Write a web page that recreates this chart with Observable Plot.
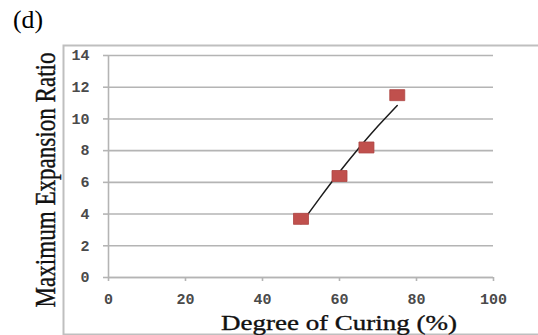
<!DOCTYPE html>
<html>
<head>
<meta charset="utf-8">
<script src="https://cdn.jsdelivr.net/npm/d3@7"></script>
<script src="https://cdn.jsdelivr.net/npm/@observablehq/plot@0.6"></script>
<style>
  html, body { margin: 0; padding: 0; background: #fff; }
</style>
</head>
<body>
<div id="chart"></div>
<script>
// Measured samples: degree of curing (%) vs maximum expansion ratio
const curing = [50, 60, 67, 75];
const expansion = [3.7, 6.4, 8.2, 11.5];

// Trendline drawn through the samples
const trendCuring = [50, 55, 60, 65, 70, 75];
const trendExpansion = [3.4, 5.05, 6.65, 8.15, 9.55, 10.85];

// Axis ticks
const xTicks = [0, 20, 40, 60, 80, 100];
const yTicks = [0, 2, 4, 6, 8, 10, 12, 14];

const points = curing.map((x, i) => ({x, y: expansion[i]}));
const trend = trendCuring.map((x, i) => ({x, y: trendExpansion[i]}));

// Spreadsheet-style marker: a slightly wide filled rectangle
const wideSquare = {
  draw(context) {
    const w = 15, h = 11;
    context.rect(-w / 2, -h / 2, w, h);
  }
};

const gridColor = "#b4b4b4";
const tickText = "#4a4a4a";

const chart = Plot.plot({
  width: 538,
  height: 335,
  marginLeft: 108,
  marginRight: 45,
  marginTop: 55,
  marginBottom: 58,
  style: {fontFamily: "Liberation Mono, DejaVu Sans Mono, monospace", fontSize: "15px", background: "#fff"},
  x: {domain: [0, 100], label: null},
  y: {domain: [0, 14], label: null},
  marks: [
    // outer chart-area border
    Plot.frame({stroke: "#bfbfbf", strokeWidth: 2, insetLeft: -45, insetTop: -10, insetBottom: -57, insetRight: -60}),
    Plot.gridY(yTicks, {stroke: gridColor, strokeOpacity: 1, strokeWidth: 1.6}),
    Plot.axisY(yTicks, {tickSize: 5, tickPadding: 14, stroke: gridColor, strokeWidth: 1.6, fill: tickText, fontWeight: "bold", label: null}),
    Plot.axisX(xTicks, {tickSize: 4, tickPadding: 12, stroke: gridColor, strokeWidth: 1.6, fill: tickText, fontWeight: "bold", label: null}),
    Plot.ruleX([0], {stroke: gridColor, strokeWidth: 1.6}),
    Plot.ruleY([0], {stroke: gridColor, strokeWidth: 1.6}),
    Plot.line(trend, {x: "x", y: "y", curve: "natural", stroke: "#1c1c1c", strokeWidth: 1.5}),
    Plot.dot(points, {x: "x", y: "y", symbol: wideSquare, r: 6, fill: "#c0504d", stroke: "#ad4542", strokeWidth: 0.8})
  ]
});

document.getElementById("chart").appendChild(chart);

// Serif labels: panel letter and axis titles
const svg = d3.select(chart);
const serif = "Liberation Serif, Times New Roman, serif";

svg.append("text")
  .text("(d)")
  .attr("x", 13).attr("y", 28)
  .attr("text-anchor", "start")
  .attr("font-family", serif).attr("font-size", 25)
  .attr("textLength", 30).attr("lengthAdjust", "spacingAndGlyphs")
  .attr("fill", "#000");

svg.append("text")
  .text("Degree of Curing (%)")
  .attr("x", 221).attr("y", 330)
  .attr("text-anchor", "start")
  .attr("font-family", serif).attr("font-size", 21)
  .attr("textLength", 236).attr("lengthAdjust", "spacingAndGlyphs")
  .attr("fill", "#111").attr("stroke", "#111").attr("stroke-width", 0.35);

svg.append("text")
  .text("Maximum Expansion Ratio")
  .attr("transform", "translate(55,180) rotate(-90) scale(1,1.3)")
  .attr("text-anchor", "middle")
  .attr("font-family", serif).attr("font-size", 23)
  .attr("textLength", 255).attr("lengthAdjust", "spacingAndGlyphs")
  .attr("fill", "#111").attr("stroke", "#111").attr("stroke-width", 0.3);
</script>
</body>
</html>
